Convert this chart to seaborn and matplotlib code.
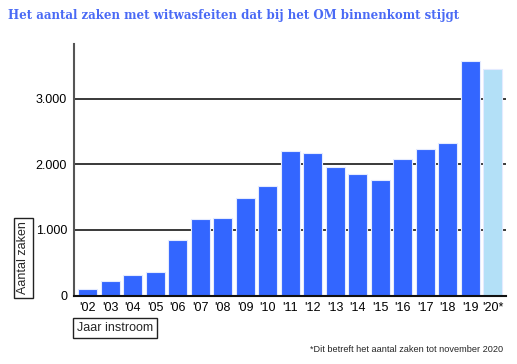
import matplotlib
matplotlib.use("Agg")
import matplotlib.pyplot as plt
import seaborn as sns
import pandas as pd

years = ["'02", "'03", "'04", "'05", "'06", "'07", "'08", "'09", "'10", "'11",
         "'12", "'13", "'14", "'15", "'16", "'17", "'18", "'19", "'20*"]
cases = [95, 225, 315, 355, 845, 1170, 1185, 1485, 1665, 2210,
         2165, 1955, 1855, 1755, 2085, 2235, 2330, 3580, 3460]
kind = ["full"] * 18 + ["partial"]
yticks = [0, 1000, 2000, 3000]
ytick_labels = ["0", "1.000", "2.000", "3.000"]

title = "Het aantal zaken met witwasfeiten dat bij het OM binnenkomt stijgt"
ylabel = "Aantal zaken"
xlabel = "Jaar instroom"
footnote = "*Dit betreft het aantal zaken tot november 2020"

df = pd.DataFrame({"year": years, "cases": cases, "kind": kind})

sns.set_theme(style="white")
plt.rcParams["font.family"] = ["Liberation Sans", "DejaVu Sans"]

fig = plt.figure(figsize=(5.17, 3.64), dpi=100)
ax = fig.add_axes([74 / 517, 1 - 295.5 / 364, (505.7 - 74) / 517, (295.5 - 44) / 364])

for y in yticks[1:]:
    ax.axhline(y, color="#2a2a2a", lw=1.3, zorder=0)

sns.barplot(data=df, x="year", y="cases", hue="kind",
            palette={"full": "#3366ff", "partial": "#b3e0f7"}, saturation=1,
            width=0.85, dodge=False, legend=False, ax=ax,
            edgecolor="#e4ebff", linewidth=0.8, zorder=2)

ax.set_xlim(-0.61, 18.57)
ax.set_ylim(0, (295.5 - 44) / 65.6 * 1000)
ax.set_yticks(yticks)
ax.set_yticklabels(ytick_labels)
ax.tick_params(axis="both", length=0, labelsize=9, colors="black")
ax.tick_params(axis="y", pad=5)
ax.tick_params(axis="x", pad=5)
ax.set_xlabel("")
ax.set_ylabel("")
for s in ["top", "right"]:
    ax.spines[s].set_visible(False)
ax.spines["left"].set_color("#555555")
ax.spines["left"].set_linewidth(1.5)
ax.spines["bottom"].set_color("#111111")
ax.spines["bottom"].set_linewidth(1.5)

fig.text(8 / 517, 1 - 15.5 / 364, title, family="DejaVu Serif", fontweight="bold",
         fontsize=8.5, color="#4a6af5", va="center", ha="left")

fig.text(23.5 / 517, 1 - 258 / 364, ylabel, rotation=90, fontsize=9, va="center", ha="center",
         bbox=dict(boxstyle="square,pad=0.25", fc="white", ec="#222222", lw=1))
fig.text(115 / 517, 1 - 328 / 364, xlabel, fontsize=9, va="center", ha="center",
         bbox=dict(boxstyle="square,pad=0.3", fc="white", ec="#222222", lw=1))
fig.text(503 / 517, 1 - 350 / 364, footnote, fontsize=6.6, va="center", ha="right")

fig.savefig("out.png", dpi=100)
